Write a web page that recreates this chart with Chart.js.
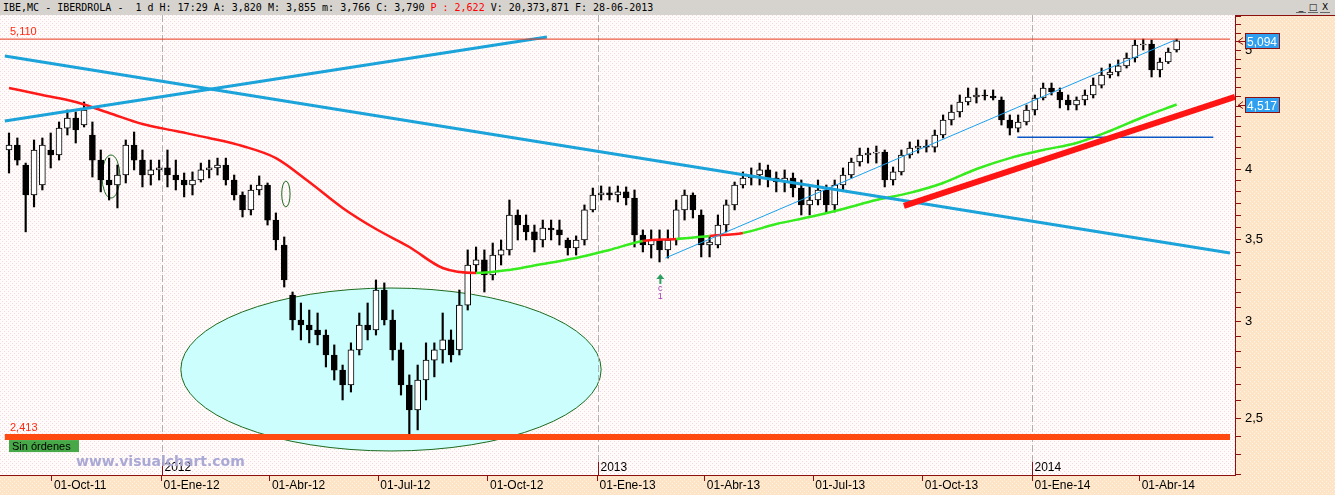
<!DOCTYPE html>
<html>
<head>
<meta charset="utf-8">
<title>IBE,MC - IBERDROLA</title>
<script src="https://cdn.jsdelivr.net/npm/chart.js@4.4.1/dist/chart.umd.min.js"></script>
<style>
  html, body { margin: 0; padding: 0; background: #fde6cc; }
  #wrap { position: relative; width: 1335px; height: 495px; overflow: hidden; }
  #header { position: absolute; left: 0; top: 0; width: 1335px; height: 15px; background: #d6d3ce; }
  #title { position: absolute; left: 3px; top: 1px; font-family: "DejaVu Sans Mono", monospace; font-size: 10px; line-height: 13px; white-space: pre; color: #000; }
  #title .p { color: #f00; }
  .btn { position: absolute; top: 2px; width: 10px; height: 10px; font: 9px/10px "DejaVu Sans", sans-serif; color: #000; text-align: center; border-bottom: 1px solid #666; }
  #chart { position: absolute; left: 0; top: 15px; }
</style>
</head>
<body>
<div id="wrap">
  <div id="header">
    <div id="title">IBE,MC - IBERDROLA -  1 d H: 17:29 A: 3,820 M: 3,855 m: 3,766 C: 3,790 <span class="p">P : 2,622</span> V: 20,373,871 F: 28-06-2013</div>
    <div class="btn" style="left:1296px">_</div>
    <div class="btn" style="left:1308px">&#9633;</div>
    <div class="btn" style="left:1320px">X</div>
  </div>
  <canvas id="chart" width="1335" height="480"></canvas>
</div>
<script>
// weekly candles, week 0 is centred on 26-08-2011
const opens = [4.146,4.185,4.030,3.809,3.881,4.146,4.107,4.321,4.404,4.346,
  4.265,4.068,3.918,3.881,3.955,4.185,4.068,3.955,3.993,4.008,
  3.955,3.918,3.881,3.918,3.993,4.008,4.030,3.918,3.809,3.703,
  3.845,3.881,3.633,3.466,3.154,3.009,2.981,2.953,2.925,2.817,
  2.738,2.662,2.844,2.981,2.953,3.184,3.009,2.844,2.662,2.540,
  2.687,2.790,2.844,2.898,2.844,3.095,3.338,3.370,3.276,3.401,
  3.434,3.668,3.599,3.553,3.499,3.579,3.566,3.499,3.447,3.499,
  3.703,3.809,3.824,3.809,3.831,3.787,3.532,3.466,3.499,3.434,
  3.499,3.703,3.809,3.668,3.466,3.466,3.599,3.738,3.881,3.933,
  3.955,3.993,3.933,3.903,3.933,3.859,3.738,3.773,3.845,3.738,
  3.881,3.955,4.053,4.107,4.122,4.130,3.918,3.978,4.107,4.161,
  4.177,4.169,4.265,4.387,4.454,4.539,4.582,4.599,4.590,4.556,
  4.387,4.321,4.371,4.471,4.573,4.660,4.625,4.556,4.513,4.556,
  4.599,4.686,4.776,4.803,4.858,4.931,5.054,5.063,4.821,4.894,5.006];
const highs = [4.281,4.241,4.045,4.225,4.241,4.281,4.371,4.471,4.454,4.539,
  4.371,4.146,4.083,4.030,4.225,4.289,4.146,4.068,4.068,4.146,
  4.068,3.970,3.978,4.045,4.068,4.083,4.083,3.955,3.831,3.881,
  3.948,3.896,3.682,3.519,3.172,3.107,3.066,3.049,2.953,2.871,
  2.764,2.882,3.049,3.107,3.245,3.227,3.066,2.882,2.713,2.764,
  2.882,2.882,3.049,2.953,3.184,3.434,3.453,3.434,3.479,3.499,
  3.773,3.703,3.668,3.599,3.633,3.633,3.633,3.512,3.526,3.738,
  3.859,3.874,3.867,3.874,3.867,3.845,3.566,3.566,3.566,3.566,
  3.773,3.845,3.824,3.703,3.519,3.668,3.773,3.903,3.978,4.008,
  4.045,4.030,3.978,3.993,3.970,3.918,3.881,3.918,3.881,3.918,
  4.008,4.083,4.161,4.161,4.177,4.146,4.015,4.146,4.209,4.225,
  4.225,4.305,4.429,4.513,4.599,4.660,4.660,4.643,4.643,4.582,
  4.429,4.429,4.513,4.599,4.704,4.704,4.660,4.599,4.582,4.643,
  4.749,4.839,4.876,4.913,4.978,5.101,5.110,5.101,4.931,5.025,5.110];
const lows = [3.970,4.030,3.553,3.724,3.845,4.008,4.068,4.265,4.201,4.330,
  3.940,3.831,3.773,3.717,3.896,3.993,3.867,3.881,3.918,3.867,
  3.845,3.795,3.809,3.903,3.933,3.955,3.881,3.773,3.654,3.668,
  3.809,3.599,3.434,3.202,2.953,2.898,2.882,2.871,2.754,2.687,
  2.588,2.627,2.817,2.898,2.925,2.981,2.790,2.612,2.414,2.446,
  2.588,2.703,2.774,2.780,2.817,3.066,3.295,3.172,3.245,3.338,
  3.401,3.499,3.499,3.421,3.453,3.499,3.466,3.401,3.401,3.466,
  3.689,3.773,3.773,3.759,3.738,3.453,3.421,3.382,3.357,3.382,
  3.466,3.633,3.647,3.389,3.389,3.447,3.553,3.703,3.859,3.881,
  3.881,3.867,3.831,3.831,3.795,3.668,3.668,3.738,3.689,3.689,
  3.845,3.933,4.022,4.045,4.045,3.867,3.881,3.955,4.083,4.122,
  4.130,4.130,4.241,4.346,4.412,4.513,4.530,4.556,4.556,4.346,
  4.265,4.289,4.346,4.429,4.556,4.599,4.488,4.471,4.471,4.513,
  4.573,4.660,4.749,4.767,4.839,4.894,5.006,4.758,4.758,4.880,4.987];
const closes = [4.185,4.068,3.809,4.146,4.185,4.107,4.321,4.404,4.305,4.471,
  4.068,3.918,3.881,3.955,4.185,4.068,3.955,3.993,4.008,3.955,
  3.918,3.881,3.918,3.993,4.008,4.030,3.918,3.809,3.703,3.845,
  3.881,3.633,3.499,3.245,3.009,2.981,2.953,2.925,2.817,2.738,
  2.662,2.844,2.981,2.953,3.184,3.009,2.844,2.662,2.540,2.687,
  2.790,2.844,2.898,2.817,3.095,3.338,3.370,3.276,3.401,3.434,
  3.668,3.599,3.553,3.499,3.579,3.566,3.532,3.447,3.499,3.703,
  3.809,3.824,3.809,3.831,3.787,3.532,3.466,3.499,3.434,3.499,
  3.703,3.809,3.703,3.466,3.486,3.599,3.738,3.881,3.933,3.955,
  3.993,3.933,3.903,3.933,3.859,3.738,3.773,3.845,3.738,3.881,
  3.955,4.053,4.107,4.122,4.130,3.918,3.978,4.107,4.161,4.177,
  4.169,4.265,4.387,4.454,4.539,4.582,4.599,4.590,4.573,4.387,
  4.321,4.371,4.471,4.573,4.660,4.625,4.556,4.513,4.556,4.599,
  4.686,4.776,4.803,4.858,4.931,5.054,5.063,4.821,4.894,4.987,5.094];

// moving average, one value every 4 weeks
const maValues = [4.660,4.599,4.539,4.446,4.354,4.297,4.241,4.177,4.083,3.903,
  3.717,3.572,3.453,3.319,3.288,3.307,3.344,3.382,3.434,3.492,
  3.506,3.526,3.546,3.606,3.654,3.710,3.773,3.824,3.896,4.000,
  4.083,4.146,4.201,4.297,4.412,4.517];
const maStep = 4;

// drawn lines: [week, price] end points
const trendUp = [[-0.5, 4.379], [64.5, 5.130]];
const trendDown = [[-0.5, 4.950], [146.4, 3.414]];
const channel = [[78.7, 3.382], [139.8, 5.101]];
const redTrend = [[107.3, 3.731], [147.0, 4.582]];
const blueLevel = [[120.9, 4.247], [144.4, 4.247]];
const topLevel = 5.110;
const bottomLevel = 2.413;
const lastClose = 5.094;
const lastMa = 4.517;

// ellipses [week from, week to, price top, price bottom]
const bigZone = [20.6, 71.0, 3.196, 2.3505];
const smallZones = [[11.15, 13.3, 4.107, 3.787], [32.7, 33.7, 3.910, 3.724]];
const signal = { week: 78.1, price: 3.282 };

const quarterDates = ['2011-10-01','2012-01-01','2012-04-01','2012-07-01','2012-10-01','2013-01-01',
  '2013-04-01','2013-07-01','2013-10-01','2014-01-01','2014-04-01'];
const quarterLabels = ['01-Oct-11','01-Ene-12','01-Abr-12','01-Jul-12','01-Oct-12','01-Ene-13',
  '01-Abr-13','01-Jul-13','01-Oct-13','01-Ene-14','01-Abr-14'];
const yearDates = ['2012-01-01','2013-01-01','2014-01-01'];
const yearLabels = ['2012','2013','2014'];
const yLabelValues = [2.5, 3, 3.5, 4, 4.5, 5];

const WEEK0 = Date.UTC(2011, 7, 26);
function weekOf(d) { return (Date.parse(d) - WEEK0) / (7 * 864e5); }
const quarterWeeks = quarterDates.map(weekOf);
const yearWeeks = yearDates.map(weekOf);

const X_MIN = -1.08, X_MAX = 147.0;
const Y_MIN = 2.2465, Y_MAX = 5.3477;

const DARK = '#8c1010';
const FONT = '"Liberation Sans", Arial, sans-serif';

function pts(a) { return a.map(p => ({ x: p[0], y: p[1] })); }
function fmt(v) { return String(v).replace('.', ','); }

const yTicks = [];
for (let k = 27; k <= 64; k++) yTicks.push(k / 12);

const maPoints = maValues.map((v, k) => ({ x: k * maStep, y: v }));
const maColors = maValues.map((v, k) => closes[k * maStep] < v ? '#ff1a1a' : '#36ec1e');
const bodyFill = closes.map((c, i) => c >= opens[i] ? '#ffffff' : '#000000');

function pattern(ctx, base, dot) {
  const c = document.createElement('canvas');
  c.width = 4; c.height = 4;
  const g = c.getContext('2d');
  g.fillStyle = base; g.fillRect(0, 0, 4, 4);
  g.fillStyle = dot; g.fillRect(0, 0, 1, 1); g.fillRect(2, 2, 1, 1);
  return ctx.createPattern(c, 'repeat');
}

const bgPlugin = {
  id: 'bg',
  beforeDraw(chart) {
    const { ctx, chartArea: a, width, height } = chart;
    ctx.save();
    ctx.fillStyle = pattern(ctx, '#fde4c6', '#fff3e4');
    ctx.fillRect(0, 0, width, height);
    ctx.fillStyle = pattern(ctx, '#fffbfa', '#f3d9dc');
    ctx.fillRect(a.left, a.top, a.right - a.left, a.bottom - a.top);
    ctx.restore();
  },
  beforeDatasetsDraw(chart) {
    const { ctx, chartArea: a, scales: { x, y } } = chart;
    ctx.save();
    // big ellipse
    let x0 = x.getPixelForValue(bigZone[0]), x1 = x.getPixelForValue(bigZone[1]);
    let y0 = y.getPixelForValue(bigZone[2]), y1 = y.getPixelForValue(bigZone[3]);
    ctx.beginPath();
    ctx.ellipse((x0 + x1) / 2, (y0 + y1) / 2, (x1 - x0) / 2, (y1 - y0) / 2, 0, 0, Math.PI * 2);
    ctx.fillStyle = '#ccfefe';
    ctx.fill();
    ctx.strokeStyle = '#1f6b1f';
    ctx.lineWidth = 1;
    ctx.stroke();
    smallZones.forEach(z => {
      const a0 = x.getPixelForValue(z[0]), a1 = x.getPixelForValue(z[1]);
      const b0 = y.getPixelForValue(z[2]), b1 = y.getPixelForValue(z[3]);
      ctx.beginPath();
      ctx.ellipse((a0 + a1) / 2, (b0 + b1) / 2, (a1 - a0) / 2, (b1 - b0) / 2, 0, 0, Math.PI * 2);
      ctx.strokeStyle = '#1f6b1f';
      ctx.stroke();
    });
    // year separators
    ctx.setLineDash([7, 3]);
    ctx.strokeStyle = '#b0b0b0';
    yearWeeks.forEach(w => {
      const px = Math.round(x.getPixelForValue(w)) + 0.5;
      ctx.beginPath();
      ctx.moveTo(px, a.top);
      ctx.lineTo(px, a.bottom);
      ctx.stroke();
    });
    ctx.restore();
  },
  afterDraw(chart) {
    const { ctx, chartArea: a, scales: { x, y } } = chart;
    ctx.save();
    // year labels and marks
    ctx.font = '12px ' + FONT;
    ctx.textBaseline = 'alphabetic';
    yearWeeks.forEach((w, i) => {
      const px = Math.round(x.getPixelForValue(w)) + 0.5;
      ctx.strokeStyle = DARK;
      ctx.beginPath(); ctx.moveTo(px, a.bottom - 13); ctx.lineTo(px, a.bottom); ctx.stroke();
      ctx.fillStyle = '#000';
      ctx.fillText(yearLabels[i], px + 2, a.bottom - 4);
    });
    // level labels
    ctx.font = '11px ' + FONT;
    ctx.fillStyle = '#ff2a10';
    ctx.fillText(fmt(topLevel.toFixed(3)), 10, y.getPixelForValue(topLevel) - 4);
    ctx.fillText(fmt(bottomLevel.toFixed(3)), 10, y.getPixelForValue(bottomLevel) - 6);
    // orders box
    const by = y.getPixelForValue(bottomLevel) + 3;
    ctx.fillStyle = '#46a846';
    ctx.fillRect(9, by, 70, 12);
    ctx.fillStyle = '#000';
    ctx.font = '11px ' + FONT;
    ctx.fillText('Sin órdenes', 12, by + 10);
    // watermark
    ctx.font = 'bold 14px "DejaVu Sans", sans-serif';
    ctx.fillStyle = '#aaa9d6';
    ctx.fillText('www.visualchart.com', 76, a.bottom - 9);
    // signal arrow
    const sx = x.getPixelForValue(signal.week), sy = y.getPixelForValue(signal.price);
    ctx.fillStyle = '#2e9e62';
    ctx.beginPath();
    ctx.moveTo(sx, sy); ctx.lineTo(sx - 4, sy + 5); ctx.lineTo(sx + 4, sy + 5); ctx.closePath();
    ctx.fill();
    ctx.fillRect(sx - 1, sy + 5, 2, 5);
    ctx.fillStyle = '#a040b0';
    ctx.font = '9px ' + FONT;
    ctx.textAlign = 'center';
    ctx.fillText('c', sx, sy + 17);
    ctx.fillText('1', sx, sy + 25);
    ctx.textAlign = 'left';
    // value boxes on the price axis
    ctx.font = '12px ' + FONT;
    [lastClose, lastMa].forEach(v => {
      const py = Math.round(y.getPixelForValue(v));
      ctx.strokeStyle = DARK;
      ctx.lineWidth = 1;
      ctx.beginPath();
      ctx.moveTo(a.right + 8, py - 3.5); ctx.lineTo(a.right + 3, py + 0.5); ctx.lineTo(a.right + 8, py + 3.5);
      ctx.moveTo(a.right + 3, py + 0.5); ctx.lineTo(a.right + 10, py + 0.5);
      ctx.stroke();
      ctx.fillStyle = '#2f9ff0';
      ctx.fillRect(a.right + 10, py - 8, 35, 16);
      ctx.strokeRect(a.right + 10.5, py - 7.5, 34, 15);
      ctx.fillStyle = '#fff';
      ctx.fillText(fmt(v.toFixed(3)), a.right + 12, py + 5);
    });
    // top border of price axis
    ctx.strokeStyle = DARK;
    ctx.beginPath(); ctx.moveTo(a.right, 0.5); ctx.lineTo(chart.width, 0.5); ctx.stroke();
    ctx.restore();
  }
};

new Chart(document.getElementById('chart'), {
  type: 'bar',
  data: {
    datasets: [
      { type: 'line', data: pts([[-0.5, bottomLevel], [146.4, bottomLevel]]), borderColor: '#ff4a12', borderWidth: 6, pointRadius: 0, order: 1 },
      { type: 'line', data: pts([[X_MIN, topLevel], [146.4, topLevel]]), borderColor: '#e8361a', borderWidth: 1, pointRadius: 0, order: 2 },
      { type: 'line', data: pts(redTrend), borderColor: '#ff1414', borderWidth: 6, pointRadius: 0, order: 3 },
      { type: 'line', data: pts(channel), borderColor: '#1aa2ec', borderWidth: 1, pointRadius: 0, order: 4 },
      { type: 'line', data: pts(blueLevel), borderColor: '#0b55c4', borderWidth: 1.5, pointRadius: 0, order: 5 },
      { type: 'line', data: pts(trendUp), borderColor: '#1ba3da', borderWidth: 3, pointRadius: 0, order: 6 },
      { type: 'line', data: pts(trendDown), borderColor: '#1ba3da', borderWidth: 3, pointRadius: 0, order: 7 },
      { type: 'line', data: maPoints, borderColor: '#36ec1e', borderWidth: 2.5, pointRadius: 0, order: 8,
        cubicInterpolationMode: 'monotone',
        segment: { borderColor: c => maColors[c.p0DataIndex] } },
      { type: 'bar', data: opens.map((o, i) => ({ x: i, y: [Math.min(o, closes[i]), Math.max(o, closes[i])] })),
        backgroundColor: bodyFill, borderColor: '#000', borderWidth: 1, borderSkipped: false,
        barThickness: 6, minBarLength: 1, grouped: false, order: 9 },
      { type: 'bar', data: highs.map((h, i) => ({ x: i, y: [lows[i], h] })),
        backgroundColor: '#000', barThickness: 1.5, grouped: false, order: 10 }
    ]
  },
  options: {
    responsive: false,
    animation: false,
    devicePixelRatio: 1,
    events: [],
    layout: { padding: 0 },
    plugins: { legend: { display: false }, tooltip: { enabled: false } },
    scales: {
      x: {
        type: 'linear', min: X_MIN, max: X_MAX, offset: false, bounds: 'data',
        afterBuildTicks: s => { s.ticks = quarterWeeks.map(v => ({ value: v })); s.min = X_MIN; s.max = X_MAX; },
        afterFit: s => { s.height = 20; s.paddingLeft = 0; s.paddingRight = 0; },
        grid: { drawOnChartArea: false, offset: false, tickLength: 6, tickColor: DARK },
        border: { display: true, color: DARK, width: 1 },
        ticks: { autoSkip: false, maxRotation: 0, align: 'start', labelOffset: 2, padding: -3,
          color: '#000', font: { family: FONT, size: 12 },
          callback: (v, i) => quarterLabels[i] }
      },
      y: {
        type: 'logarithmic', position: 'right', min: Y_MIN, max: Y_MAX, bounds: 'data',
        afterBuildTicks: s => { s.ticks = yTicks.map(v => ({ value: v })); s.min = Y_MIN; s.max = Y_MAX; },
        afterFit: s => { s.width = 100; s.paddingTop = 0; s.paddingBottom = 0; },
        grid: { drawOnChartArea: false, tickLength: 6, tickColor: DARK },
        border: { display: true, color: DARK, width: 1 },
        ticks: { autoSkip: false, padding: 4, color: '#000', font: { family: FONT, size: 13 },
          callback: v => {
            const hit = yLabelValues.find(t => Math.abs(t - v) < 1e-6);
            return hit === undefined ? '' : fmt(hit);
          } }
      }
    }
  },
  plugins: [bgPlugin]
});
</script>
</body>
</html>
